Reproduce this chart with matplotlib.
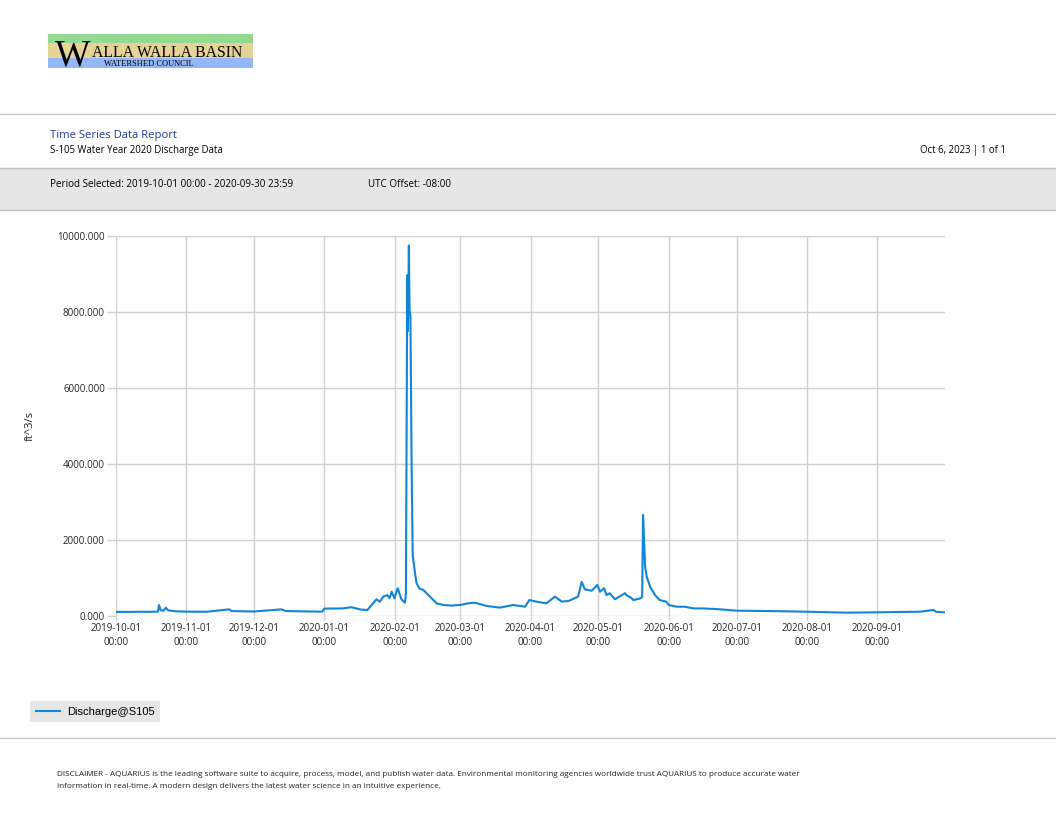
import matplotlib
matplotlib.use('Agg')
import matplotlib.pyplot as plt
from matplotlib.patches import Rectangle
from matplotlib.lines import Line2D
import pandas as pd

# readings off the report (days since 2019-10-01 00:00, ft^3/s)
days = [0, 5, 10, 15, 18.5, 19, 19.7, 21, 22, 23, 26, 31, 40, 50, 51, 61, 73, 75, 85, 91,
        92, 100, 104, 108, 111, 115, 116.5, 118, 119.8, 120.8, 121.7, 122.9, 124.4, 126, 127.6,
        128, 128.6, 128.9, 129.3, 129.6, 130, 130.5, 131, 132, 132.7, 134, 135.7, 138.6, 141.6,
        144.5, 148, 152, 155, 158.5, 163.7, 169.5, 175.4, 180.6, 182.5, 185.7, 190, 193.8,
        196.8, 200, 204, 205.6, 207, 210, 212.5, 213.7, 215.5, 216.6, 218, 220.3, 224.7, 225.4,
        227.7, 228.4, 231.6, 232.3, 232.7, 233.6, 234.3, 235.8, 238, 240, 243, 244, 247.5, 251,
        255, 259.4, 266.8, 274, 288.7, 305, 322.6, 336, 355, 361, 362, 365.9]
flow = [110, 108, 112, 110, 115, 290, 150, 140, 220, 150, 125, 115, 112, 175, 130, 118, 175, 130, 120, 115,
        195, 200, 230, 170, 158, 440, 376, 510, 550, 470, 640, 465, 730, 440, 350,
        600, 8970, 7500, 9750, 8050, 7900, 4000, 1600, 1130, 860, 720, 685, 510, 333,
        290, 275, 290, 330, 350, 263, 220, 290, 245, 420, 377, 333, 510,
        377, 400, 510, 900, 700, 665, 815, 640, 730, 550, 600, 440, 600, 550,
        465, 420, 465, 500, 2660, 1300, 1035, 770, 550, 420, 377, 290, 245, 245,
        200, 200, 175, 140, 130, 113, 88, 97, 113, 158, 110, 97]

start = pd.Timestamp('2019-10-01 00:00')
end = pd.Timestamp('2020-09-30 23:59')
times = [start + pd.Timedelta(days=d) for d in days]

month_ticks = pd.date_range('2019-10-01', '2020-09-01', freq='MS')
y_ticks = [0, 2000, 4000, 6000, 8000, 10000]

W, H = 1056, 816
def fx(px):
    return px / W
def fy(py):
    return 1 - py / H

fig = plt.figure(figsize=(10.56, 8.16), dpi=100)
fig.patch.set_facecolor('white')

# logo bands
for y0, y1, c in [(34, 43.3, '#93d991'), (43.3, 57.5, '#e6d497'), (57.5, 68.3, '#94b8f7')]:
    fig.patches.append(Rectangle((fx(48), fy(y1)), fx(253) - fx(48), fy(y0) - fy(y1),
                                 transform=fig.transFigure, facecolor=c, edgecolor='none'))
fig.text(fx(55), fy(66), 'W', family='Liberation Serif', fontsize=27, color='black', va='baseline')
fig.text(fx(92), fy(57), 'ALLA WALLA BASIN', family='Liberation Serif', fontsize=11.3, color='black', va='baseline')
fig.text(fx(104), fy(66.5), 'WATERSHED COUNCIL', family='Liberation Serif', fontsize=6, color='black', va='baseline')

# header rules and grey band
fig.add_artist(Line2D([0, 1], [fy(114), fy(114)], color='#c8c8c8', lw=1, transform=fig.transFigure))
fig.patches.append(Rectangle((0, fy(210)), 1, fy(168) - fy(210), transform=fig.transFigure,
                             facecolor='#e6e6e6', edgecolor='none'))
fig.add_artist(Line2D([0, 1], [fy(168), fy(168)], color='#bdbdbd', lw=1, transform=fig.transFigure))
fig.add_artist(Line2D([0, 1], [fy(210), fy(210)], color='#bdbdbd', lw=1, transform=fig.transFigure))
fig.add_artist(Line2D([0, 1], [fy(738), fy(738)], color='#c8c8c8', lw=1, transform=fig.transFigure))

fig.text(fx(50), fy(135.5), 'Time Series Data Report', family='Open Sans', fontsize=8.1, color='#1f3c96', va='center')
fig.text(fx(50), fy(150.5), 'S-105 Water Year 2020 Discharge Data', family='Open Sans', fontsize=6.9, color='black', va='center')
fig.text(fx(1006), fy(150.5), 'Oct 6, 2023 | 1 of 1', family='Open Sans', fontsize=6.9, color='black', va='center', ha='right')
fig.text(fx(50), fy(184.5), 'Period Selected: 2019-10-01 00:00 - 2020-09-30 23:59', family='Open Sans', fontsize=7.1, color='black', va='center')
fig.text(fx(368), fy(184.5), 'UTC Offset: -08:00', family='Open Sans', fontsize=7.1, color='black', va='center')

fig.text(fx(57), fy(775), 'DISCLAIMER - AQUARIUS is the leading software suite to acquire, process, model, and publish water data. '
         'Environmental monitoring agencies worldwide trust AQUARIUS to produce accurate water',
         family='Open Sans', fontsize=5.9, color='#222222', va='center')
fig.text(fx(57), fy(786), 'information in real-time. A modern design delivers the latest water science in an intuitive experience.',
         family='Open Sans', fontsize=5.9, color='#222222', va='center')

# chart
ax = fig.add_axes([fx(116), fy(616), fx(945) - fx(116), fy(236) - fy(616)])
line, = ax.plot(times, flow, color='#1185d8', lw=1.5, label='Discharge@S105')
ax.set_xlim(start, end)
ax.set_ylim(0, 10000)
ax.set_yticks(y_ticks)
ax.set_yticklabels(['%.3f' % v for v in y_ticks])
ax.set_xticks(month_ticks)
ax.set_xticklabels([t.strftime('%Y-%m-%d') + '\n00:00' for t in month_ticks])
ax.grid(True, color='#cfcfcf', lw=1)
ax.set_axisbelow(True)
for s in ax.spines.values():
    s.set_visible(False)
ax.tick_params(axis='y', length=6.5, color='#cfcfcf', width=1, pad=1.5, labelsize=7, labelcolor='#222222')
ax.tick_params(axis='x', length=3, color='#cfcfcf', width=1, pad=2, labelsize=7, labelcolor='#222222')
for lab in ax.get_xticklabels() + ax.get_yticklabels():
    lab.set_family('Open Sans')
    lab.set_linespacing(1.35)

fig.text(fx(30), fy(426), 'ft^3/s', family='Open Sans', fontsize=8, rotation=90, ha='center', va='center', color='#222222')

leg = fig.legend(handles=[line], loc='upper left', bbox_to_anchor=(fx(30), fy(701)),
                 bbox_transform=fig.transFigure, frameon=True, fancybox=False,
                 prop={'family': 'Liberation Sans', 'size': 8},
                 handlelength=2.2, handletextpad=0.6, borderpad=0.5, borderaxespad=0)
leg.get_frame().set_facecolor('#e6e6e6')
leg.get_frame().set_edgecolor('none')
leg.get_frame().set_alpha(1)

fig.savefig('out.png', dpi=100)
